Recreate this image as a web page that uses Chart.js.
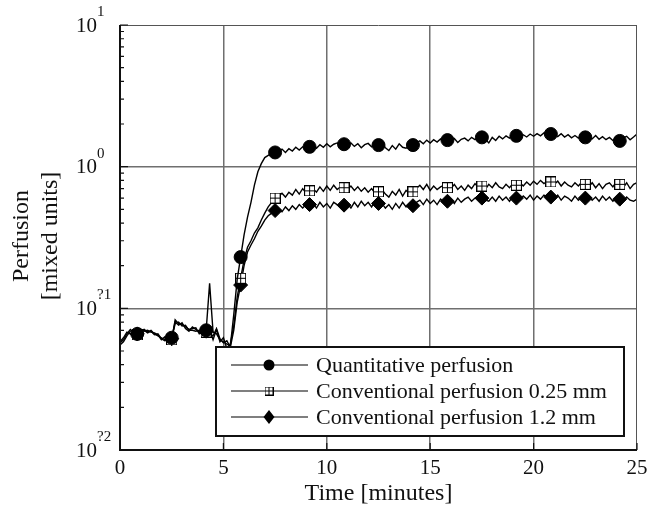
<!DOCTYPE html>
<html>
<head>
<meta charset="utf-8">
<script src="https://cdn.jsdelivr.net/npm/chart.js@4.4.1/dist/chart.umd.min.js"></script>
<style>
html,body{margin:0;padding:0;background:#fff;}
#wrap{width:663px;height:510px;position:relative;}
</style>
</head>
<body>
<div id="wrap"><canvas id="c" width="663" height="510"></canvas></div>
<script>
// ---- data (sampled every 1/6 minute, t = index / 6) ----
const stepMinutes = 1 / 6;
const quantitative = [
  0.057,0.060,0.066,0.071,0.068,
  0.066,
  0.069,0.071,0.068,0.070,0.066,0.064,0.062,0.060,0.058,
  0.062,
  0.080,0.076,0.079,0.072,0.069,0.074,0.071,0.068,0.066,
  0.070,
  0.150,0.068,0.066,0.060,0.058,0.056,0.054,
  0.090,0.16,0.23,0.33,0.44,0.56,0.74,0.92,1.05,1.16,1.20,1.24,1.26,
  1.28,1.33,1.26,1.34,1.29,1.37,1.31,1.38,1.34,
  1.38,
  1.41,1.35,1.43,1.37,1.45,1.38,1.44,1.47,1.40,
  1.44,
  1.40,1.47,1.39,1.45,1.36,1.43,1.46,1.38,1.44,
  1.42,
  1.46,1.36,1.30,1.41,1.33,1.45,1.37,1.35,1.41,
  1.42,
  1.48,1.52,1.45,1.54,1.47,1.55,1.49,1.57,1.50,
  1.54,
  1.50,1.58,1.48,1.56,1.59,1.52,1.61,1.55,1.62,
  1.61,
  1.56,1.47,1.61,1.53,1.64,1.57,1.65,1.59,1.66,
  1.65,
  1.61,1.68,1.62,1.70,1.64,1.71,1.65,1.73,1.67,
  1.70,
  1.69,1.63,1.71,1.62,1.68,1.60,1.66,1.59,1.65,
  1.61,
  1.64,1.57,1.66,1.56,1.63,1.55,1.61,1.53,1.56,
  1.52,
  1.60,1.64,1.55,1.62,1.70
];
const conventional025 = [
  0.055,0.058,0.064,0.069,0.070,
  0.065,
  0.071,0.069,0.070,0.068,0.067,0.065,0.060,0.063,0.057,
  0.060,
  0.083,0.078,0.077,0.074,0.071,0.072,0.073,0.066,0.068,
  0.068,
  0.072,0.060,0.071,0.058,0.062,0.052,0.056,
  0.075,0.12,0.163,0.22,0.27,0.30,0.34,0.37,0.42,0.47,0.52,0.56,0.60,
  0.62,0.65,0.61,0.66,0.63,0.69,0.64,0.70,0.65,
  0.675,
  0.70,0.66,0.72,0.67,0.73,0.68,0.74,0.69,0.72,
  0.71,
  0.69,0.73,0.68,0.72,0.67,0.71,0.66,0.70,0.65,
  0.664,
  0.69,0.64,0.61,0.67,0.63,0.69,0.62,0.68,0.64,
  0.664,
  0.70,0.74,0.69,0.75,0.68,0.73,0.69,0.72,0.74,
  0.71,
  0.70,0.75,0.69,0.73,0.68,0.74,0.70,0.76,0.71,
  0.73,
  0.69,0.75,0.71,0.77,0.72,0.70,0.75,0.71,0.76,
  0.74,
  0.77,0.73,0.78,0.74,0.79,0.75,0.80,0.76,0.79,
  0.78,
  0.75,0.79,0.73,0.78,0.74,0.72,0.77,0.73,0.78,
  0.75,
  0.72,0.77,0.71,0.76,0.70,0.75,0.77,0.72,0.78,
  0.75,
  0.71,0.77,0.70,0.75,0.77
];
const conventional12 = [
  0.058,0.062,0.068,0.066,0.067,
  0.066,
  0.068,0.070,0.067,0.069,0.065,0.066,0.061,0.059,0.060,
  0.061,
  0.078,0.080,0.075,0.076,0.070,0.070,0.069,0.070,0.065,
  0.069,
  0.066,0.064,0.072,0.061,0.057,0.059,0.053,
  0.070,0.11,0.146,0.20,0.25,0.28,0.31,0.35,0.38,0.42,0.45,0.47,0.49,
  0.50,0.48,0.52,0.49,0.53,0.50,0.54,0.51,0.54,
  0.54,
  0.55,0.51,0.56,0.52,0.55,0.51,0.56,0.54,0.52,
  0.535,
  0.55,0.51,0.56,0.52,0.57,0.53,0.56,0.52,0.57,
  0.55,
  0.55,0.51,0.54,0.50,0.55,0.51,0.56,0.52,0.55,
  0.53,
  0.56,0.58,0.54,0.59,0.55,0.58,0.54,0.59,0.56,
  0.57,
  0.59,0.55,0.60,0.56,0.59,0.61,0.57,0.60,0.62,
  0.60,
  0.58,0.57,0.61,0.57,0.62,0.58,0.61,0.57,0.62,
  0.60,
  0.58,0.62,0.59,0.63,0.58,0.62,0.59,0.63,0.61,
  0.61,
  0.59,0.63,0.58,0.62,0.60,0.57,0.62,0.58,0.61,
  0.60,
  0.62,0.58,0.61,0.57,0.62,0.58,0.61,0.57,0.60,
  0.59,
  0.57,0.61,0.58,0.57,0.59
];
const markerFirstIndex = 5;   // first marker at 5/6 min
const markerEvery = 10;       // then every 10 samples (5/3 min)
const seriesNames = ['Quantitative perfusion','Conventional perfusion 0.25 mm','Conventional perfusion 1.2 mm'];
const xTicks = [0,5,10,15,20,25];
const yTickExponents = [1,0,-1,-2];
const yTickSup = ['1','0','?1','?2'];
const xTitle = 'Time [minutes]';
const yTitle = ['Perfusion','[mixed units]'];

// ---- marker images ----
function squarePlus(s){
  const c=document.createElement('canvas'); c.width=s; c.height=s;
  const g=c.getContext('2d');
  g.fillStyle='#fff'; g.fillRect(0,0,s,s);
  g.strokeStyle='#000'; g.lineWidth=1;
  g.strokeRect(0.5,0.5,s-1,s-1);
  const m=Math.floor(s/2)+0.5;
  g.beginPath(); g.moveTo(m,1); g.lineTo(m,s-1); g.moveTo(1,m); g.lineTo(s-1,m); g.stroke();
  return c;
}
const sqBig = squarePlus(11);
const sqSmall = squarePlus(9);

const isMarker = i => i>=markerFirstIndex && (i-markerFirstIndex)%markerEvery===0;
const toXY = arr => arr.map((v,i)=>({x:i*stepMinutes,y:v}));

function ds(label, arr, style, radius){
  return {
    label, data: toXY(arr),
    borderColor:'#000', borderWidth:1.4, backgroundColor:'#000',
    pointBorderColor:'#000', pointBackgroundColor:'#000', pointBorderWidth:1,
    pointStyle: style,
    pointRadius: c => isMarker(c.dataIndex) ? radius : 0,
    pointHoverRadius: 0,
    tension:0, fill:false
  };
}

const gridGray = '#6f6f6f';

const decor = {
  id:'decor',
  afterDraw(chart){
    const {ctx, chartArea:a, scales} = chart;
    const xs=scales.x, ys=scales.y;
    ctx.save();
    // frame
    ctx.strokeStyle='#555'; ctx.lineWidth=1;
    ctx.beginPath(); ctx.moveTo(a.left,a.top+0.5); ctx.lineTo(a.right,a.top+0.5);
    ctx.moveTo(a.right-0.5,a.top); ctx.lineTo(a.right-0.5,a.bottom); ctx.stroke();
    ctx.strokeStyle='#111'; ctx.lineWidth=2;
    ctx.beginPath(); ctx.moveTo(a.left,a.top); ctx.lineTo(a.left,a.bottom); ctx.lineTo(a.right,a.bottom); ctx.stroke();
    // minor ticks on y
    ctx.lineWidth=1.2;
    ctx.beginPath();
    for(let e=-2;e<1;e++){
      for(let k=2;k<=9;k++){
        const p=ys.getPixelForValue(k*Math.pow(10,e));
        ctx.moveTo(a.left,p); ctx.lineTo(a.left+4,p);
      }
    }
    for(const e of yTickExponents){
      const p=ys.getPixelForValue(Math.pow(10,e));
      ctx.moveTo(a.left,p); ctx.lineTo(a.left+8,p);
    }
    for(const t of xTicks){
      const p=xs.getPixelForValue(t);
      ctx.moveTo(p,a.bottom); ctx.lineTo(p,a.bottom-7);
    }
    ctx.stroke();
    // y tick labels
    ctx.fillStyle='#111';
    yTickExponents.forEach((e,i)=>{
      const p=ys.getPixelForValue(Math.pow(10,e));
      ctx.font='21px "Liberation Serif"';
      ctx.textAlign='right'; ctx.textBaseline='middle';
      ctx.fillText('10',97,p+1);
      ctx.font='15px "Liberation Serif"';
      ctx.textAlign='left';
      ctx.fillText(yTickSup[i],97,p-13);
    });
    // x tick labels
    ctx.font='21px "Liberation Serif"';
    ctx.textAlign='center'; ctx.textBaseline='middle';
    xTicks.forEach(t=>ctx.fillText(String(t),xs.getPixelForValue(t),468));
    // x title
    ctx.font='24px "Liberation Serif"';
    ctx.fillText(xTitle,(a.left+a.right)/2,494);
    // y title
    ctx.save();
    ctx.translate(22,236); ctx.rotate(-Math.PI/2);
    ctx.fillText(yTitle[0],0,0);
    ctx.restore();
    ctx.save();
    ctx.translate(51,236); ctx.rotate(-Math.PI/2);
    ctx.fillText(yTitle[1],0,0);
    ctx.restore();
    // legend
    const L=216,T=347,R=624,B=436;
    ctx.fillStyle='#fff'; ctx.fillRect(L,T,R-L,B-T);
    ctx.strokeStyle='#111'; ctx.lineWidth=2; ctx.strokeRect(L,T,R-L,B-T);
    const rows=[365,391,417];
    rows.forEach((y,i)=>{
      ctx.strokeStyle='#000'; ctx.lineWidth=1.2;
      ctx.beginPath(); ctx.moveTo(231,y); ctx.lineTo(308,y); ctx.stroke();
      ctx.fillStyle='#000';
      if(i===0){ ctx.beginPath(); ctx.arc(269,y,5.5,0,Math.PI*2); ctx.fill(); }
      else if(i===1){ ctx.drawImage(sqSmall,269-4.5,y-4.5); }
      else { ctx.beginPath(); ctx.moveTo(269,y-7); ctx.lineTo(274.5,y); ctx.lineTo(269,y+7); ctx.lineTo(263.5,y); ctx.closePath(); ctx.fill(); }
      ctx.fillStyle='#111';
      ctx.font='22px "Liberation Serif"';
      ctx.textAlign='left'; ctx.textBaseline='middle';
      ctx.fillText(seriesNames[i],316,y+1);
    });
    ctx.restore();
  }
};

new Chart(document.getElementById('c'),{
  type:'line',
  data:{datasets:[
    ds(seriesNames[0],quantitative,'circle',6.5),
    ds(seriesNames[1],conventional025,sqBig,6),
    ds(seriesNames[2],conventional12,'rectRot',7)
  ]},
  options:{
    responsive:false, animation:false, devicePixelRatio:1,
    layout:{padding:{left:120,right:26,top:25,bottom:60}},
    plugins:{legend:{display:false},tooltip:{enabled:false}},
    scales:{
      x:{type:'linear',min:0,max:25,
         ticks:{display:false,stepSize:5},
         border:{display:false},
         grid:{drawTicks:false,lineWidth:1.5,
           color:c=>(c.tick && c.tick.value>0 && c.tick.value<25)?gridGray:'rgba(0,0,0,0)'}},
      y:{type:'logarithmic',min:0.01,max:10,
         ticks:{display:false},
         border:{display:false},
         grid:{drawTicks:false,lineWidth:1.5,
           color:c=>{const v=c.tick?c.tick.value:0;const l=Math.log10(v);
             return (Math.abs(l-Math.round(l))<1e-6 && v>0.011 && v<9.9)?gridGray:'rgba(0,0,0,0)';}}}
    }
  },
  plugins:[decor]
});
</script>
</body>
</html>
